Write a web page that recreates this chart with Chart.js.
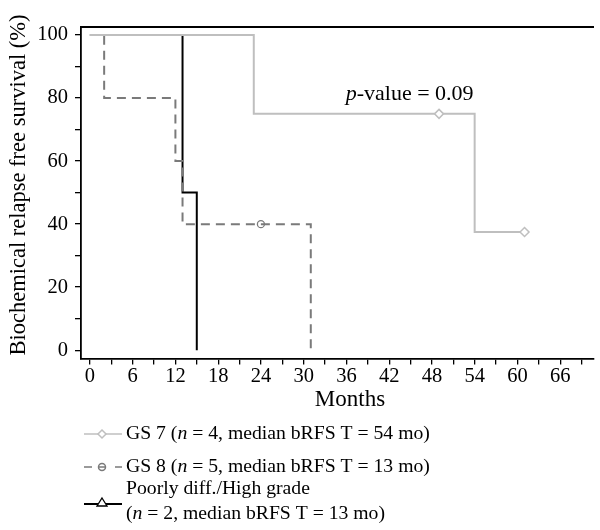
<!DOCTYPE html>
<html>
<head>
<meta charset="utf-8">
<script src="https://cdn.jsdelivr.net/npm/chart.js@4/dist/chart.umd.min.js"></script>
<style>
  html, body { margin: 0; padding: 0; background: #fff; }
</style>
</head>
<body>
<canvas id="kmChart" width="600" height="530"></canvas>
<script>
// Kaplan-Meier steps (months, % free of biochemical relapse)
const gs7Months = [0, 23, 49, 54, 61];
const gs7Survival = [100, 75, 75, 37.5, 37.5];
const gs7Censored = [false, false, true, false, true];

const gs8Months = [0, 2, 12, 13, 24, 31];
const gs8Survival = [100, 80, 60, 40, 40, 0];
const gs8Censored = [false, false, false, false, true, false];

const pdMonths = [0, 13, 15];
const pdSurvival = [100, 50, 0];

const xTicks = [0, 3, 6, 9, 12, 15, 18, 21, 24, 27, 30, 33, 36, 39, 42, 45, 48, 51, 54, 57, 60, 63, 66, 69];
const yTicks = [0, 10, 20, 30, 40, 50, 60, 70, 80, 90, 100];

const legendLabels = [
  ["GS 7 (", "n", " = 4, median bRFS T = 54 mo)"],
  ["GS 8 (", "n", " = 5, median bRFS T = 13 mo)"],
  ["(", "n", " = 2, median bRFS T = 13 mo)"],
];
const pValueText = "-value = 0.09";

const FONT = "'Liberation Serif', 'Times New Roman', serif";
const GRAY_LIGHT = "#bfbfbf";
const GRAY_DARK = "#7a7a7a";
const LEGEND_SIZE = 19.7;

function toPoints(xs, ys) {
  return xs.map((x, i) => ({ x: x, y: ys[i] }));
}

// draw a text run made of [normal, italic, normal] pieces
function drawMixed(ctx, parts, x, y, size) {
  let cx = x;
  parts.forEach((p, i) => {
    ctx.font = (i === 1 ? "italic " : "") + size + "px " + FONT;
    ctx.fillText(p, cx, y);
    cx += ctx.measureText(p).width;
  });
}

const extras = {
  id: "extras",
  afterDraw(chart) {
    const ctx = chart.ctx;
    const area = chart.chartArea;
    const xs = chart.scales.x;
    const ys = chart.scales.y;
    ctx.save();

    // top frame line
    ctx.strokeStyle = "#000";
    ctx.lineWidth = 1.8;
    ctx.beginPath();
    ctx.moveTo(area.left, area.top);
    ctx.lineTo(area.right, area.top);
    ctx.stroke();

    ctx.fillStyle = "#000";
    ctx.textBaseline = "alphabetic";

    // x title
    ctx.font = "23px " + FONT;
    ctx.textAlign = "center";
    ctx.fillText("Months", 350, 406);

    // y title
    ctx.save();
    ctx.translate(25, 185);
    ctx.rotate(-Math.PI / 2);
    ctx.font = "22.5px " + FONT;
    ctx.fillText("Biochemical relapse free survival (%)", 0, 0);
    ctx.restore();

    // p-value annotation
    ctx.textAlign = "left";
    drawMixed(ctx, ["", "p", pValueText], xs.getPixelForValue(35.9), ys.getPixelForValue(79.4), 22);

    // legend
    const lx0 = 84, lx1 = 122, mx = 102, tx = 126;
    ctx.textBaseline = "middle";

    // GS 7
    let y = 434;
    ctx.strokeStyle = GRAY_LIGHT;
    ctx.lineWidth = 1.5;
    ctx.beginPath();
    ctx.moveTo(lx0, y); ctx.lineTo(lx1, y);
    ctx.stroke();
    ctx.fillStyle = "#fff";
    ctx.beginPath();
    ctx.moveTo(mx, y - 4); ctx.lineTo(mx + 4, y); ctx.lineTo(mx, y + 4); ctx.lineTo(mx - 4, y);
    ctx.closePath();
    ctx.fill(); ctx.stroke();
    ctx.fillStyle = "#000";
    drawMixed(ctx, legendLabels[0], tx, y, LEGEND_SIZE);

    // GS 8
    y = 467;
    ctx.strokeStyle = GRAY_DARK;
    ctx.beginPath();
    ctx.moveTo(lx0, y); ctx.lineTo(92, y);
    ctx.moveTo(98, y); ctx.lineTo(106, y);
    ctx.moveTo(115, y); ctx.lineTo(lx1, y);
    ctx.stroke();
    ctx.beginPath();
    ctx.arc(mx, y, 3.5, 0, Math.PI * 2);
    ctx.stroke();
    ctx.fillStyle = "#000";
    drawMixed(ctx, legendLabels[1], tx, y, LEGEND_SIZE);

    // Poorly diff.
    y = 504;
    ctx.strokeStyle = "#000";
    ctx.lineWidth = 1.8;
    ctx.beginPath();
    ctx.moveTo(lx0, y); ctx.lineTo(lx1, y);
    ctx.stroke();
    ctx.lineWidth = 1.3;
    ctx.fillStyle = "#fff";
    ctx.beginPath();
    ctx.moveTo(mx, y - 6); ctx.lineTo(mx + 5, y + 2); ctx.lineTo(mx - 5, y + 2);
    ctx.closePath();
    ctx.fill(); ctx.stroke();
    ctx.fillStyle = "#000";
    ctx.font = LEGEND_SIZE + "px " + FONT;
    ctx.fillText("Poorly diff./High grade", tx, 489);
    drawMixed(ctx, legendLabels[2], tx, 514, LEGEND_SIZE);

    ctx.restore();
  },
};

const tickFont = { family: FONT, size: 20.5 };

const chart = new Chart(document.getElementById("kmChart"), {
  type: "line",
  data: {
    datasets: [
      {
        label: "GS 7",
        data: toPoints(gs7Months, gs7Survival),
        borderColor: GRAY_LIGHT,
        borderWidth: 2,
        stepped: "before",
        pointStyle: "rectRot",
        pointRadius: (c) => (gs7Censored[c.dataIndex] ? 4.5 : 0),
        pointBorderColor: GRAY_LIGHT,
        pointBackgroundColor: "#fff",
        pointBorderWidth: 1.5,
      },
      {
        label: "GS 8",
        data: toPoints(gs8Months, gs8Survival),
        borderColor: GRAY_DARK,
        borderWidth: 2,
        borderDash: [9, 6],
        stepped: "before",
        pointStyle: "circle",
        pointRadius: (c) => (gs8Censored[c.dataIndex] ? 3.5 : 0),
        pointBorderColor: GRAY_DARK,
        pointBackgroundColor: "rgba(0,0,0,0)",
        pointBorderWidth: 1.3,
      },
      {
        label: "Poorly diff./High grade",
        data: toPoints(pdMonths, pdSurvival),
        borderColor: "#000",
        borderWidth: 2,
        stepped: "before",
        pointRadius: 0,
      },
    ],
  },
  options: {
    responsive: false,
    animation: false,
    layout: { padding: { top: 27, right: 0, bottom: 125, left: 0 } },
    plugins: {
      legend: { display: false },
      tooltip: { enabled: false },
    },
    scales: {
      x: {
        type: "linear",
        min: -1.25,
        max: 70.75,
        afterBuildTicks: (s) => { s.ticks = xTicks.map((v) => ({ value: v })); },
        afterFit: (s) => { s.height = 46.5; },
        ticks: {
          callback: (v) => (v % 6 === 0 ? String(v) : ""),
          font: tickFont,
          color: "#000",
          maxRotation: 0,
          autoSkip: false,
          padding: 0,
        },
        grid: { drawOnChartArea: false, tickLength: 6, color: "#000", lineWidth: 1.3 },
        border: { color: "#000", width: 1.8 },
      },
      y: {
        min: -2.65,
        max: 102.57,
        afterBuildTicks: (s) => { s.ticks = yTicks.map((v) => ({ value: v })); },
        afterFit: (s) => { s.width = 81; },
        ticks: {
          callback: (v) => (v % 20 === 0 ? String(v) : ""),
          font: tickFont,
          color: "#000",
          padding: 7,
        },
        grid: { drawOnChartArea: false, tickLength: 6, color: "#000", lineWidth: 1.3 },
        border: { color: "#000", width: 1.8 },
      },
    },
  },
  plugins: [extras],
});
</script>
</body>
</html>
